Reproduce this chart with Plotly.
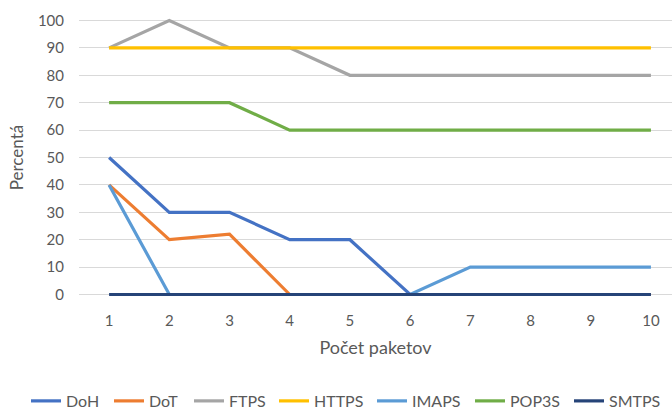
import plotly.graph_objects as go

# Number of packets (category axis)
pakety = [1, 2, 3, 4, 5, 6, 7, 8, 9, 10]

# Percentage per protocol
doh = [50, 30, 30, 20, 20, 0, 0, 0, 0, 0]
dot = [40, 20, 22, 0, 0, 0, 0, 0, 0, 0]
ftps = [90, 100, 90, 90, 80, 80, 80, 80, 80, 80]
https = [90, 90, 90, 90, 90, 90, 90, 90, 90, 90]
imaps = [40, 0, 0, 0, 0, 0, 10, 10, 10, 10]
pop3s = [70, 70, 70, 60, 60, 60, 60, 60, 60, 60]
smtps = [0, 0, 0, 0, 0, 0, 0, 0, 0, 0]

y_ticks = [0, 10, 20, 30, 40, 50, 60, 70, 80, 90, 100]

series = [
    ("DoH", doh, "#4472C4"),
    ("DoT", dot, "#ED7D31"),
    ("FTPS", ftps, "#A5A5A5"),
    ("HTTPS", https, "#FFC000"),
    ("IMAPS", imaps, "#5B9BD5"),
    ("POP3S", pop3s, "#70AD47"),
    ("SMTPS", smtps, "#264478"),
]

# left edge (px) of each legend entry along the bottom row
legend_x_px = [26, 109, 189, 274, 372, 470, 569]

FONT = "Lato, Carlito, Calibri, sans-serif"
GRAY = "#595959"
W, H = 672, 410

fig = go.Figure()
legends = {}
for i, (name, vals, color) in enumerate(series):
    key = "legend" if i == 0 else f"legend{i + 1}"
    fig.add_trace(go.Scatter(
        x=pakety, y=vals, name=name, mode="lines",
        line=dict(color=color, width=3.2),
        legend=key,
    ))
    legends[key] = dict(
        orientation="h", xref="container", yref="container",
        x=legend_x_px[i] / W, xanchor="left", y=0.022, yanchor="middle",
        font=dict(size=16, color=GRAY), itemwidth=30,
        bgcolor="rgba(0,0,0,0)",
    )

fig.update_layout(
    width=W, height=H,
    margin=dict(l=79, r=0, t=14.5, b=109.5),
    paper_bgcolor="white", plot_bgcolor="white",
    font=dict(family=FONT, color=GRAY, size=14),
    showlegend=True,
    **legends,
    xaxis=dict(
        range=[0.5, 10.35], tickmode="array", tickvals=pakety,
        ticktext=[str(p) for p in pakety],
        showgrid=False, zeroline=False, showline=False,
        ticks="", tickfont=dict(size=15, color=GRAY), ticklabelstandoff=10,
        title=dict(text="Počet paketov", font=dict(size=18, color=GRAY), standoff=13),
    ),
    yaxis=dict(
        range=[-2, 102], tickmode="array", tickvals=y_ticks,
        showgrid=True, gridcolor="#D9D9D9", gridwidth=1,
        zeroline=False, showline=False, ticks="",
        tickfont=dict(size=15, color=GRAY), ticklabelstandoff=14,
        title=dict(text="Percentá", font=dict(size=17, color=GRAY), standoff=9),
    ),
)

fig.write_html("out.html")
